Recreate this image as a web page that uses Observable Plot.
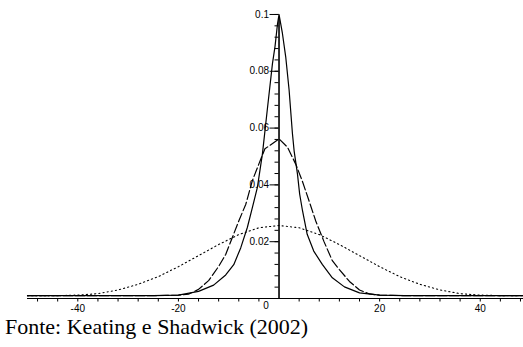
<!DOCTYPE html>
<html>
<head>
<meta charset="utf-8">
<script src="https://cdn.jsdelivr.net/npm/d3@7"></script>
<script src="https://cdn.jsdelivr.net/npm/@observablehq/plot@0.6"></script>
<style>
  html, body { margin: 0; padding: 0; background: #fff; }
  #wrap { position: relative; width: 523px; height: 347px; overflow: hidden; }
  #caption { position: absolute; left: 5px; top: 316px; font-family: "Liberation Serif", "Times New Roman", serif; font-size: 22px; line-height: 22px; color: #000; white-space: nowrap; }
</style>
</head>
<body>
<div id="wrap"><div id="chart"></div><div id="caption">Fonte: Keating e Shadwick (2002)</div></div>
<script>
// Solid curve (sharp peak, Laplace-like)
const solidX = [-50, -40, -30, -25, -20, -16, -13, -10.6, -9.0, -7.6, -6.3, -5.3, -4.3, -3.3, -2.3, -1.3, -0.8, -0.3, 0, 0.67, 1.33, 2.0, 2.67, 3.0, 3.67, 4.1, 4.67, 5.6, 6.9, 8.6, 10.6, 13, 16, 20, 25, 30, 40, 48.6];
const solidY = [0.001, 0.001, 0.001, 0.001, 0.0012, 0.0025, 0.0047, 0.0083, 0.0119, 0.0179, 0.025, 0.032, 0.0391, 0.0509, 0.067, 0.0828, 0.0887, 0.0967, 0.1, 0.0934, 0.0851, 0.0735, 0.058, 0.052, 0.0438, 0.0368, 0.0309, 0.0226, 0.0167, 0.012, 0.0073, 0.0041, 0.002, 0.0012, 0.001, 0.001, 0.001, 0.001];
// Dashed curve (normal-like, peak ~0.056)
const dashX = [-50, -40, -30, -25, -20, -18, -16, -14, -12, -10.6, -9.3, -8.0, -6.6, -5.3, -4.0, -2.8, 0, 1.67, 3.3, 4.6, 5.96, 7.3, 8.9, 10.6, 12, 14, 16, 18, 20, 25, 30, 40, 48.6];
const dashY = [0.001, 0.001, 0.001, 0.001, 0.0012, 0.0015, 0.0032, 0.0063, 0.0113, 0.0155, 0.0214, 0.0273, 0.0332, 0.0415, 0.0474, 0.0527, 0.0562, 0.0533, 0.0474, 0.0415, 0.0344, 0.0273, 0.0202, 0.0133, 0.0102, 0.006, 0.003, 0.0016, 0.0012, 0.001, 0.001, 0.001, 0.001];
// Dotted curve (wide, peak ~0.0257)
const dotX = [-50, -44, -40, -36, -32, -28, -24, -20, -16, -12, -8, -4, 0, 4, 8, 12, 16, 20, 24, 28, 32, 36, 40, 44, 48.6];
const dotY = [0.001, 0.001, 0.0012, 0.0017, 0.003, 0.005, 0.0077, 0.0112, 0.0151, 0.019, 0.0225, 0.0249, 0.0257, 0.0249, 0.0225, 0.019, 0.0151, 0.0112, 0.0077, 0.005, 0.003, 0.0017, 0.0012, 0.001, 0.001];

const xTickLabels = [-40, -20, 20, 40];
const xZeroLabel = [0];
const xMinorTicks = [-48, -44, -40, -36, -32, -28, -24, -20, -16, -12, -8, -4, 4, 8, 12, 16, 20, 24, 28, 32, 36, 40, 44, 48];
const yTickLabels = [0.02, 0.04, 0.06, 0.08, 0.1];
const yMinorTicks = [0.004, 0.008, 0.012, 0.016, 0.02, 0.024, 0.028, 0.032, 0.036, 0.04, 0.044, 0.048, 0.052, 0.056, 0.06, 0.064, 0.068, 0.072, 0.076, 0.08, 0.084, 0.088, 0.092, 0.096, 0.1];

const W = 523, H = 320, mL = 27, mR = 0, mT = 10, mB = 22;
const xDomain = [-50, 48.6], yDomain = [0, 0.1014];
const axisDx = (0 - xDomain[0]) / (xDomain[1] - xDomain[0]) * (W - mL - mR);

const pts = (xs, ys) => xs.map((x, i) => ({x, y: ys[i]}));

const chart = Plot.plot({
  width: W, height: H,
  marginLeft: mL, marginRight: mR, marginTop: mT, marginBottom: mB,
  x: {domain: xDomain, label: null},
  y: {domain: yDomain, label: null},
  style: {fontFamily: "'Liberation Sans', Arial, sans-serif", fontSize: "10px", color: "#000", background: "#fff"},
  marks: [
    Plot.axisX(xMinorTicks, {anchor: "bottom", tickSize: 3.5, tickFormat: () => "", stroke: "#000", label: null}),
    Plot.axisX(xTickLabels, {anchor: "bottom", tickSize: 0, tickPadding: 6, tickFormat: d => String(d), fill: "#000", fontSize: 10, label: null}),
    Plot.axisX(xZeroLabel, {anchor: "bottom", tickSize: 0, tickPadding: 3, dx: -13, tickFormat: d => String(d), fill: "#000", fontSize: 10, label: null}),
    Plot.axisY(yMinorTicks, {anchor: "left", dx: axisDx, tickSize: 4, tickFormat: () => "", stroke: "#000", label: null}),
    Plot.axisY(yTickLabels, {anchor: "left", dx: axisDx, tickSize: 9, tickPadding: 1, tickFormat: d => String(d), stroke: "#000", fill: "#000", fontSize: 10, label: null}),
    Plot.ruleY([0], {stroke: "#000", strokeWidth: 1.2}),
    Plot.ruleX([0], {y1: yDomain[0], y2: yDomain[1], insetBottom: -7, stroke: "#000", strokeWidth: 1.6}),
    Plot.line(pts(dotX, dotY), {x: "x", y: "y", stroke: "#000", strokeWidth: 1.1, strokeDasharray: "1.2,3"}),
    Plot.line(pts(dashX, dashY), {x: "x", y: "y", stroke: "#000", strokeWidth: 1.2, strokeDasharray: "9,3"}),
    Plot.line(pts(solidX, solidY), {x: "x", y: "y", stroke: "#000", strokeWidth: 1.2})
  ]
});
document.getElementById("chart").appendChild(chart);
</script>
</body>
</html>
